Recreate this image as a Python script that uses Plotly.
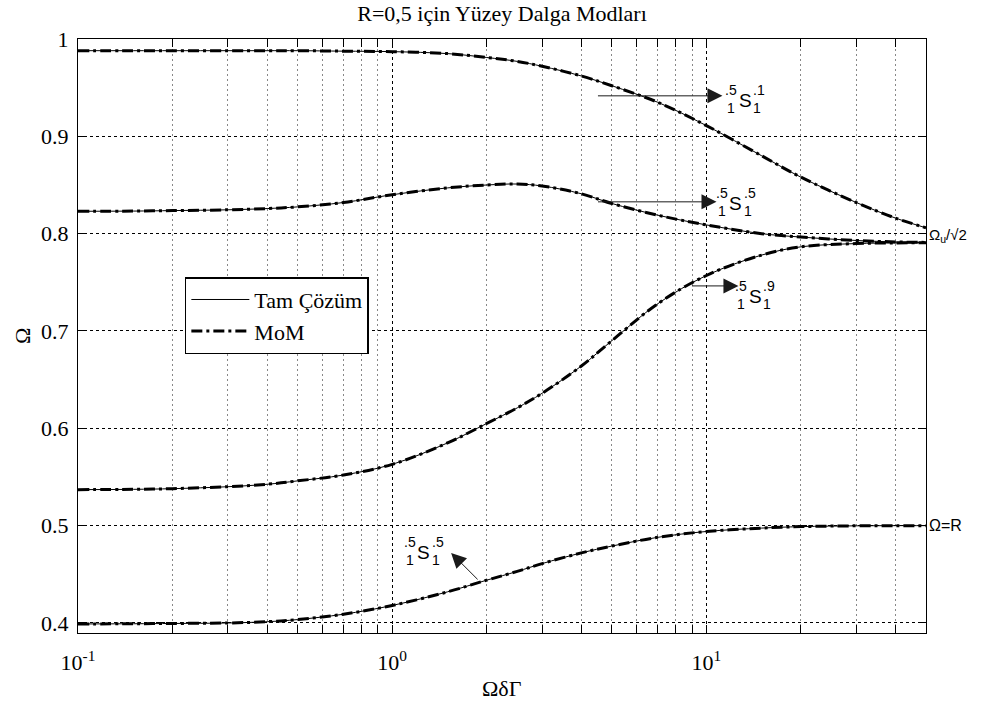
import numpy as np
import plotly.graph_objects as go

# ---------------- data ----------------
x_vals = [0.1, 0.15, 0.2, 0.3, 0.4, 0.5, 0.7, 1, 1.5, 2, 2.5, 3, 4, 5, 7, 10, 15, 20, 30, 40, 50]

mode_s1 = [0.988, 0.988, 0.988, 0.988, 0.988, 0.988, 0.9875, 0.987, 0.985, 0.981, 0.977, 0.972,
           0.962, 0.952, 0.935, 0.911, 0.880, 0.858, 0.832, 0.816, 0.806]
mode_s5_up = [0.823, 0.8232, 0.8237, 0.8245, 0.8258, 0.8275, 0.832, 0.840, 0.847, 0.850, 0.851, 0.849,
              0.841, 0.831, 0.819, 0.809, 0.800, 0.7965, 0.7930, 0.7915, 0.791]
mode_s9 = [0.537, 0.5373, 0.538, 0.540, 0.5425, 0.546, 0.552, 0.563, 0.585, 0.605, 0.621, 0.636,
           0.664, 0.690, 0.728, 0.757, 0.778, 0.7865, 0.7898, 0.7905, 0.7906]
mode_s5_low = [0.399, 0.3992, 0.3995, 0.400, 0.4013, 0.4035, 0.409, 0.418, 0.432, 0.444, 0.453, 0.461,
               0.472, 0.479, 0.488, 0.494, 0.4975, 0.499, 0.4998, 0.5, 0.5]

curves = [mode_s1, mode_s5_up, mode_s9, mode_s5_low]

x_major = [0.1, 1, 10]
x_major_text = ["10<sup>-1</sup>", "10<sup>0</sup>", "10<sup>1</sup>"]
x_minor = [0.2, 0.3, 0.4, 0.5, 0.6, 0.7, 0.8, 0.9, 2, 3, 4, 5, 6, 7, 8, 9, 20, 30, 40]
y_major = [0.4, 0.5, 0.6, 0.7, 0.8, 0.9, 1.0]
y_major_text = ["0.4", "0.5", "0.6", "0.7", "0.8", "0.9", "1"]

title_text = "R=0,5 için Yüzey Dalga Modları"
legend_names = ["Tam Çözüm", "MoM"]

# mode labels: (S x, S y, left sup, left sub, right sup, right sub)
mode_labels = [
    (13.3, 0.9365, ".5", "1", ".1", "1"),
    (12.4, 0.8306, ".5", "1", ".5", "1"),
    (14.3, 0.7350, ".5", "1", ".9", "1"),
    (1.26, 0.4720, ".5", "1", ".5", "1"),
]
# arrows: (head x, head y, ax px, ay px)
arrows = [
    (11.25, 0.9416, -126, 0),
    (10.77, 0.8327, -120, 0),
    (12.65, 0.7463, -48, 0),
    (1.54, 0.4720, 28, 28),
]

SERIF = "Liberation Serif"
SANS = "Liberation Sans"

fig = go.Figure()

for i, yv in enumerate(curves):
    fig.add_trace(go.Scatter(
        x=x_vals, y=yv, mode="lines",
        line=dict(color="black", width=1, shape="spline"),
        name=legend_names[0], legendgroup="a", showlegend=(i == 0)))
for i, yv in enumerate(curves):
    fig.add_trace(go.Scatter(
        x=x_vals, y=yv, mode="lines",
        line=dict(color="black", width=3, dash="11px,4px,3px,4px", shape="spline"),
        name=legend_names[1], legendgroup="b", showlegend=(i == 0)))

ann = []
for (sx, sy, lsup, lsub, rsup, rsub) in mode_labels:
    lx = np.log10(sx)
    ann.append(dict(x=lx, y=sy, text="S", showarrow=False, font=dict(family=SANS, size=19, color="black"),
                    xanchor="center", yanchor="middle"))
    ann.append(dict(x=lx, y=sy, text=lsup, showarrow=False, font=dict(family=SANS, size=14, color="black"),
                    xanchor="right", yanchor="middle", xshift=-6, yshift=11))
    ann.append(dict(x=lx, y=sy, text=lsub, showarrow=False, font=dict(family=SANS, size=14, color="black"),
                    xanchor="right", yanchor="middle", xshift=-8, yshift=-7))
    ann.append(dict(x=lx, y=sy, text=rsup, showarrow=False, font=dict(family=SANS, size=14, color="black"),
                    xanchor="left", yanchor="middle", xshift=6, yshift=11))
    ann.append(dict(x=lx, y=sy, text=rsub, showarrow=False, font=dict(family=SANS, size=14, color="black"),
                    xanchor="left", yanchor="middle", xshift=6, yshift=-7))

for (hx, hy, axp, ayp) in arrows:
    ann.append(dict(x=np.log10(hx), y=hy, text=" ", showarrow=True, ax=axp, ay=ayp,
                    arrowhead=2, arrowsize=3, arrowwidth=1, arrowcolor="#1a1a1a",
                    font=dict(size=1)))

# right-side labels
ann.append(dict(x=1, xref="paper", y=0.798, text="Ω<sub>u</sub>/√2", showarrow=False,
                xanchor="left", yanchor="middle", xshift=1, font=dict(family=SANS, size=15, color="black")))
ann.append(dict(x=1, xref="paper", y=0.5, text="Ω=R", showarrow=False,
                xanchor="left", yanchor="middle", xshift=1, font=dict(family=SANS, size=16, color="black")))
# axis titles
ann.append(dict(x=0.5, xref="paper", y=-0.094, yref="paper", text="ΩδΓ", showarrow=False,
                xanchor="center", yanchor="middle", font=dict(family=SERIF, size=22, color="black")))
ann.append(dict(x=-0.066, xref="paper", y=0.5, yref="paper", text="Ω", showarrow=False, textangle=-90,
                xanchor="center", yanchor="middle", font=dict(family=SERIF, size=22, color="black")))

fig.update_layout(
    width=981, height=704,
    margin=dict(l=78, r=55, t=39, b=71),
    paper_bgcolor="white", plot_bgcolor="white",
    title=dict(text=title_text, x=0.5, xref="paper", y=1 - 13 / 704, yanchor="middle",
               font=dict(family=SERIF, size=22, color="black")),
    annotations=ann,
    legend=dict(x=0.126, y=0.599, xanchor="left", yanchor="top", bgcolor="white",
                bordercolor="black", borderwidth=1.5, font=dict(family=SERIF, size=22, color="black"),
                traceorder="normal", tracegroupgap=0, itemwidth=58),
    showlegend=True,
)

fig.update_xaxes(
    type="log", range=[-1, np.log10(50)],
    tickvals=x_major, ticktext=x_major_text,
    ticks="inside", ticklen=8, tickcolor="black",
    showline=True, linecolor="black", linewidth=1, mirror="allticks",
    showgrid=True, gridcolor="black", griddash="3px,3px", gridwidth=1,
    zeroline=False, ticklabelstandoff=10,
    tickfont=dict(family=SERIF, size=22, color="black"),
    minor=dict(tickvals=x_minor, ticks="inside", ticklen=8, tickcolor="black",
               showgrid=True, gridcolor="#888", griddash="2px,3px", gridwidth=1),
)
fig.update_yaxes(
    range=[0.3897, 1.0],
    tickvals=y_major, ticktext=y_major_text,
    ticks="inside", ticklen=8, tickcolor="black",
    showline=True, linecolor="black", linewidth=1, mirror="allticks",
    showgrid=True, gridcolor="black", griddash="3px,3px", gridwidth=1,
    zeroline=False, ticklabelstandoff=4,
    tickfont=dict(family=SERIF, size=22, color="black"),
)

fig.write_html("out.html")
